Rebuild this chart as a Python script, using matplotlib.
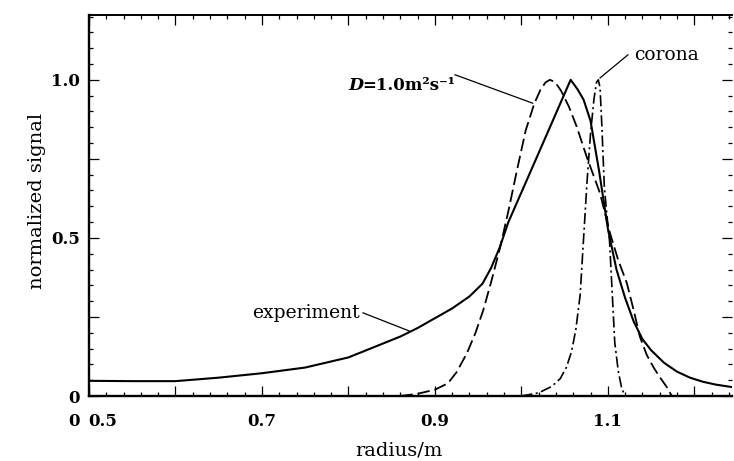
import matplotlib
matplotlib.use("Agg")
import matplotlib.pyplot as plt
from matplotlib.ticker import MultipleLocator, FuncFormatter

plt.rcParams['font.family'] = ['DejaVu Serif', 'DejaVu Sans']
plt.rcParams['lines.scale_dashes'] = False

# experiment (solid)
exp_x = [0.50, 0.55, 0.60, 0.65, 0.70, 0.75, 0.80, 0.83, 0.86, 0.88, 0.90, 0.92,
         0.94, 0.955, 0.965, 0.975, 0.985, 1.01, 1.03, 1.045, 1.057, 1.065, 1.072,
         1.08, 1.09, 1.10, 1.11, 1.12, 1.13, 1.14, 1.15, 1.165, 1.18, 1.195, 1.21,
         1.225, 1.244]
exp_y = [0.048, 0.047, 0.047, 0.058, 0.072, 0.090, 0.122, 0.155, 0.188, 0.215, 0.246, 0.277,
         0.315, 0.355, 0.405, 0.470, 0.550, 0.706, 0.831, 0.925, 1.000, 0.970, 0.937,
         0.870, 0.710, 0.530, 0.400, 0.310, 0.235, 0.180, 0.145, 0.105, 0.077, 0.058, 0.045,
         0.036, 0.028]

# diffusion model D = 1.0 m^2 s^-1 (dashed)
dif_x = [0.86, 0.88, 0.90, 0.915, 0.925, 0.937, 0.947, 0.956, 0.965, 0.975, 0.985,
         0.995, 1.005, 1.015, 1.022, 1.028, 1.033, 1.039, 1.046, 1.055, 1.064, 1.0755,
         1.091, 1.1025, 1.112, 1.122, 1.13, 1.137, 1.145, 1.153, 1.16, 1.168, 1.174]
dif_y = [0.0, 0.007, 0.020, 0.040, 0.075, 0.135, 0.200, 0.272, 0.360, 0.465, 0.585,
         0.715, 0.840, 0.925, 0.968, 0.992, 1.000, 0.993, 0.965, 0.915, 0.852, 0.757,
         0.641, 0.515, 0.430, 0.357, 0.270, 0.188, 0.130, 0.090, 0.060, 0.029, 0.0]

# corona (dash-dot)
cor_x = [1.00, 1.02, 1.035, 1.045, 1.052, 1.058, 1.063, 1.068, 1.072, 1.076, 1.080,
         1.084, 1.087, 1.089, 1.091, 1.093, 1.096, 1.099, 1.102, 1.105, 1.108, 1.112,
         1.116, 1.12]
cor_y = [0.0, 0.010, 0.030, 0.055, 0.090, 0.140, 0.210, 0.320, 0.500, 0.680, 0.830,
         0.940, 0.993, 1.000, 0.975, 0.860, 0.660, 0.570, 0.490, 0.330, 0.170, 0.080,
         0.025, 0.0]

x_labels = {0.7: "0.7", 0.9: "0.9", 1.1: "1.1"}
y_labels = {0.0: "0", 0.5: "0.5", 1.0: "1.0"}

W, H = 734, 461
fig = plt.figure(figsize=(W / 100, H / 100), dpi=100)
ax = fig.add_axes([89 / W, 65 / H, (732 - 89) / W, (396 - 15) / H])

ax.plot(exp_x, exp_y, color='black', lw=1.5)
ax.plot(dif_x, dif_y, color='black', lw=1.3, linestyle=(0, (9, 3.5)))
ax.plot(cor_x, cor_y, color='black', lw=1.2, linestyle=(0, (8, 2.5, 1.5, 2.5)))

ax.set_xlim(0.5, 1.2436)
ax.set_ylim(0, 1.205)

ax.xaxis.set_major_locator(MultipleLocator(0.1))
ax.xaxis.set_minor_locator(MultipleLocator(0.02))
ax.yaxis.set_major_locator(MultipleLocator(0.25))
ax.yaxis.set_minor_locator(MultipleLocator(0.05))

def fmt_x(v, pos):
    return x_labels.get(round(v, 2), "")

def fmt_y(v, pos):
    return y_labels.get(round(v, 2), "")

ax.xaxis.set_major_formatter(FuncFormatter(fmt_x))
ax.yaxis.set_major_formatter(FuncFormatter(fmt_y))

ax.tick_params(which='both', direction='in', top=True, right=True, width=0.9, color='black')
ax.tick_params(which='major', length=7)
ax.tick_params(which='minor', length=3)
ax.tick_params(axis='x', which='major', pad=12, labelsize=12)
ax.tick_params(axis='y', which='major', pad=6.5, labelsize=12)
for lab in ax.get_xticklabels() + ax.get_yticklabels():
    lab.set_fontweight('bold')

for s in ['left', 'bottom']:
    ax.spines[s].set_linewidth(1.7)
ax.spines['top'].set_linewidth(1.4)
ax.spines['right'].set_visible(False)

# "0 0.5" at the x-axis origin
ax.text(0.5156, -0.0787, "0.5", transform=ax.get_xaxis_transform(), ha='center',
        va='baseline', fontsize=12, fontweight='bold', clip_on=False)
ax.text(0.4827, -0.0787, "0", transform=ax.get_xaxis_transform(), ha='center',
        va='baseline', fontsize=12, fontweight='bold', clip_on=False)

# annotations
ax.plot([0.8169, 0.870], [0.263, 0.206], color='black', lw=0.9)
ax.text(0.7504, 0.247, "experiment", ha='center', va='baseline', fontsize=13.5)

ax.plot([0.9233, 1.0131], [1.016, 0.926], color='black', lw=0.9)
ax.text(0.7995, 0.968, "D", ha='left', va='baseline', fontsize=12.5,
        fontweight='bold', fontstyle='italic')
ax.text(0.8157, 0.968, "=1.0m²s⁻¹", ha='left', va='baseline', fontsize=12,
        fontweight='bold', family=['DejaVu Serif', 'DejaVu Sans'])

ax.plot([1.1233, 1.091], [1.079, 1.006], color='black', lw=0.9)
ax.text(1.1684, 1.063, "corona", ha='center', va='baseline', fontsize=13.5)

fig.text(398.5 / W, (H - 455) / H, "radius/m", ha='center', va='baseline', fontsize=14)
fig.text(37 / W, 1 - 201 / H, "normalized signal", ha='center', va='center',
         rotation=90, fontsize=14)

fig.savefig("out.png", dpi=100)
